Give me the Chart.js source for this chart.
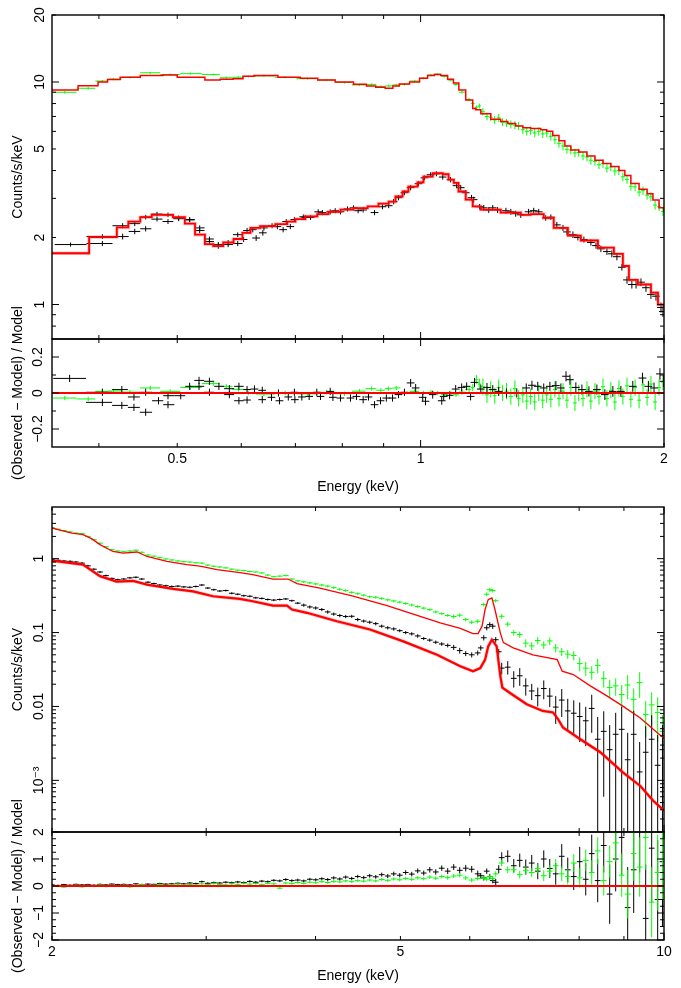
<!DOCTYPE html>
<html>
<head>
<meta charset="utf-8">
<title>Spectra and residuals</title>
<script src="https://cdn.jsdelivr.net/npm/chart.js@4.4.1/dist/chart.umd.min.js"></script>
<style>
  html, body { margin: 0; padding: 0; background: #fff; }
  #wrap { position: relative; width: 681px; height: 988px; overflow: hidden; background: #fff; }
  canvas { position: absolute; left: 0; }
</style>
</head>
<body>
<div id="wrap">
  <canvas id="topMain" width="681" height="345" style="top:0px"></canvas>
  <canvas id="topRes" width="681" height="210" style="top:290px"></canvas>
  <canvas id="botMain" width="681" height="345" style="top:495px"></canvas>
  <canvas id="botRes" width="681" height="208" style="top:780px"></canvas>
</div>
<script>
var FONT = "'Liberation Sans', Arial, Helvetica, 'DejaVu Sans', sans-serif";
var GREEN = '#00ff00', RED = '#ff0000', BLACK = '#000000';

// ---------- top plot: 0.35 - 2 keV ----------
var topXMin = 0.35, topXMax = 2;
var topYMin = 0.7, topYMax = 20;
var topResMin = -0.3, topResMax = 0.3;
var topXTicks = [0.4, 0.5, 0.6, 0.7, 0.8, 0.9, 1, 2];
var topXMajor = [1];
var topXLabelVals = [0.5, 1, 2];
var topXLabelText = ['0.5', '1', '2'];
var topYTicks = [0.8, 0.9, 1, 2, 3, 4, 5, 6, 7, 8, 9, 10, 20];
var topYMajor = [1, 10];
var topYLabelVals = [1, 2, 5, 10, 20];
var topYLabelText = ['1', '2', '5', '10', '20'];
var topResTicks = [-0.2, -0.1, 0, 0.1, 0.2];
var topResMajor = [-0.2, 0, 0.2];
var topResLabelText = ['\u22120.2', '0', '0.2'];

// [energy keV, counts/s/keV, error]
var topGreen = [
  [0.363,8.99,0.12],[0.388,9.37,0.12],[0.404,10.1,0.12],[0.417,10.3,0.12],[0.437,10.5,0.12],
  [0.463,11.0,0.13],[0.490,10.8,0.13],[0.519,10.9,0.12],[0.554,10.8,0.12],[0.575,10.45,0.12],
  [0.595,10.5,0.12],[0.612,10.6,0.12],[0.640,10.65,0.12],[0.680,10.5,0.12],[0.725,10.35,0.12],
  [0.765,10.2,0.12],[0.805,9.95,0.12],[0.840,9.7,0.12],[0.870,9.75,0.12],[0.893,9.55,0.12],
  [0.913,9.6,0.12],[0.933,9.7,0.12],[0.955,9.75,0.12],[0.983,10.1,0.13],[1.008,10.4,0.13],
  [1.030,10.75,0.13],[1.050,10.85,0.13],[1.070,10.6,0.13],[1.090,10.2,0.13],[1.106,9.75,0.13],
  [1.125,9.0,0.13],[1.148,8.35,0.14],[1.160,8.0,0.14],[1.172,7.7,0.14],[1.182,7.8,0.2],
  [1.194,7.35,0.28],[1.208,7.0,0.28],[1.221,6.95,0.28],[1.235,6.75,0.28],[1.249,6.9,0.28],
  [1.263,6.6,0.27],[1.277,6.55,0.27],[1.293,6.45,0.27],[1.308,6.4,0.27],[1.322,6.35,0.27],
  [1.338,6.1,0.26],[1.353,6.0,0.26],[1.368,6.05,0.26],[1.384,5.9,0.26],[1.400,6.0,0.26],
  [1.416,5.85,0.25],[1.432,5.9,0.25],[1.449,5.7,0.25],[1.466,5.5,0.24],[1.483,5.3,0.23],
  [1.500,5.15,0.23],[1.517,4.98,0.22],[1.534,4.95,0.22],[1.552,4.8,0.21],[1.569,4.82,0.21],
  [1.588,4.65,0.2],[1.606,4.6,0.2],[1.624,4.45,0.2],[1.643,4.4,0.19],[1.662,4.25,0.19],
  [1.681,4.3,0.19],[1.700,4.1,0.18],[1.719,4.15,0.18],[1.739,3.98,0.18],[1.759,4.0,0.18],
  [1.779,3.75,0.17],[1.800,3.65,0.16],[1.820,3.4,0.15],[1.842,3.38,0.15],[1.863,3.2,0.14],
  [1.884,3.25,0.14],[1.906,3.1,0.14],[1.927,3.05,0.14],[1.950,2.8,0.13],[1.972,2.75,0.12],
  [1.994,2.62,0.12]
];
// two detectors below 0.6 keV share the same wide bins
var topBlackLow = [
  [0.369,1.86,0.04],[0.404,1.88,0.05],[0.404,2.02,0.05],[0.428,2.26,0.06],[0.428,2.02,0.06],
  [0.443,2.31,0.06],[0.443,2.13,0.06],[0.457,2.47,0.06],[0.457,2.19,0.06],[0.472,2.55,0.06],
  [0.472,2.42,0.06],[0.487,2.53,0.06],[0.487,2.36,0.06],[0.502,2.45,0.06],[0.502,2.43,0.06],
  [0.518,2.41,0.06],[0.518,2.40,0.06],[0.533,2.21,0.06],[0.533,2.15,0.06],[0.548,1.97,0.05],
  [0.548,1.92,0.05],[0.562,1.86,0.05],[0.562,1.83,0.05],[0.578,1.90,0.05],[0.578,1.86,0.05],
  [0.594,2.06,0.05],[0.594,1.88,0.05]
];
var topBlackHigh = [
  [0.604,1.96,0.05],[0.610,2.15,0.06],[0.620,2.17,0.06],[0.626,1.99,0.06],[0.638,2.10,0.06],
  [0.640,2.21,0.06],[0.655,2.26,0.06],[0.665,2.24,0.06],[0.676,2.17,0.06],[0.682,2.36,0.06],
  [0.690,2.24,0.06],[0.698,2.41,0.06],[0.716,2.48,0.06],[0.720,2.46,0.06],[0.731,2.46,0.06],
  [0.747,2.61,0.07],[0.756,2.59,0.07],[0.773,2.61,0.07],[0.784,2.64,0.07],[0.796,2.61,0.07],
  [0.812,2.69,0.07],[0.826,2.72,0.07],[0.837,2.64,0.07],[0.849,2.66,0.07],[0.877,2.59,0.07],
  [0.897,2.75,0.07],[0.913,2.78,0.07],[0.926,2.90,0.08],[0.939,3.02,0.08],[0.955,3.18,0.08],
  [0.972,3.35,0.09],[0.994,3.49,0.09],[1.011,3.71,0.09],[1.029,3.83,0.1],[1.046,3.87,0.1],
  [1.065,3.74,0.1],[1.089,3.64,0.1],[1.108,3.42,0.09],[1.121,3.35,0.09],[1.137,3.18,0.09],
  [1.156,3.02,0.09],[1.163,2.96,0.09],[1.183,2.75,0.08],[1.197,2.72,0.08],[1.214,2.66,0.08],
  [1.228,2.72,0.08],[1.245,2.66,0.08],[1.275,2.64,0.08],[1.293,2.61,0.08],[1.311,2.56,0.08],
  [1.330,2.53,0.08],[1.360,2.61,0.08],[1.380,2.64,0.08],[1.400,2.61,0.08],[1.428,2.45,0.07],
  [1.449,2.47,0.07],[1.474,2.28,0.07],[1.500,2.21,0.07],[1.517,2.12,0.07],[1.543,2.06,0.07],
  [1.565,2.00,0.06],[1.592,1.96,0.06],[1.624,1.90,0.06],[1.648,1.84,0.06],[1.671,1.78,0.06],
  [1.700,1.73,0.06],[1.724,1.69,0.06],[1.749,1.64,0.06],[1.774,1.47,0.05],[1.800,1.29,0.05],
  [1.825,1.23,0.05],[1.847,1.23,0.05],[1.873,1.26,0.05],[1.900,1.19,0.05],[1.927,1.11,0.05],
  [1.955,1.09,0.05],[1.983,0.97,0.05],[1.994,0.93,0.05]
];
// model histograms: [bin start keV, value], last entry closes the final bin
var topGreenModel = [
  [0.350,9.2],[0.377,9.62],[0.399,10.0],[0.410,10.25],[0.425,10.5],[0.450,10.7],[0.480,10.75],
  [0.500,10.5],[0.541,10.2],[0.565,10.3],[0.586,10.35],[0.603,10.6],[0.622,10.7],[0.666,10.5],
  [0.710,10.4],[0.746,10.2],[0.784,10.0],[0.826,9.78],[0.857,9.6],[0.880,9.47],[0.904,9.38],
  [0.924,9.6],[0.941,9.8],[0.969,10.0],[0.997,10.4],[1.020,10.7],[1.040,10.8],[1.059,10.7],
  [1.080,10.3],[1.098,9.9],[1.115,9.2],[1.137,8.3],[1.160,7.6],[1.170,7.5],[1.187,7.2],
  [1.221,6.8],[1.256,6.65],[1.282,6.5],[1.311,6.35],[1.338,6.23],[1.368,6.18],[1.408,6.1],
  [1.432,6.0],[1.457,5.75],[1.483,5.45],[1.508,5.15],[1.534,4.95],[1.569,4.85],[1.606,4.65],
  [1.643,4.45],[1.681,4.3],[1.719,4.17],[1.759,4.0],[1.789,3.8],[1.820,3.5],[1.863,3.3],
  [1.906,3.15],[1.938,2.95],[1.972,2.72],[2.0,2.62]
];
var topBlackModel = [
  [0.350,1.70],[0.389,2.01],[0.421,2.22],[0.435,2.36],[0.450,2.47],[0.465,2.53],[0.494,2.47],
  [0.511,2.31],[0.526,2.06],[0.541,1.87],[0.554,1.83],[0.570,1.90],[0.587,1.97],[0.602,2.10],
  [0.616,2.21],[0.633,2.25],[0.661,2.30],[0.684,2.36],[0.700,2.42],[0.720,2.49],[0.745,2.55],
  [0.769,2.61],[0.796,2.67],[0.826,2.71],[0.860,2.76],[0.887,2.84],[0.913,2.90],[0.931,3.06],
  [0.950,3.22],[0.966,3.39],[0.991,3.54],[1.008,3.76],[1.035,3.89],[1.065,3.85],[1.083,3.64],
  [1.099,3.52],[1.114,3.22],[1.137,2.96],[1.160,2.76],[1.187,2.67],[1.256,2.59],[1.330,2.53],
  [1.368,2.55],[1.420,2.45],[1.461,2.21],[1.521,2.04],[1.578,1.94],[1.657,1.80],[1.734,1.69],
  [1.779,1.49],[1.810,1.29],[1.856,1.23],[1.927,1.13],[1.966,1.00],[2.0,0.97]
];
// residuals: [energy keV, (obs-model)/model, error]
var topGreenRes = [
  [0.363,-0.028,0.012],[0.388,-0.033,0.012],[0.404,0.009,0.012],[0.417,0.011,0.012],[0.437,0.005,0.012],
  [0.463,0.028,0.012],[0.490,0.009,0.012],[0.519,0.031,0.012],[0.554,0.052,0.012],[0.575,0.037,0.012],
  [0.595,0.02,0.012],[0.612,0.0,0.012],[0.640,-0.006,0.012],[0.680,0.0,0.012],[0.725,-0.005,0.012],
  [0.765,0.004,0.012],[0.805,-0.004,0.012],[0.840,0.01,0.012],[0.870,0.024,0.012],[0.893,0.015,0.012],
  [0.913,0.024,0.012],[0.933,0.028,0.012],[0.955,0.0,0.012],[0.983,0.009,0.012],[1.008,0.0,0.012],
  [1.030,0.004,0.012],[1.050,0.0,0.012],[1.070,-0.009,0.012],[1.090,0.0,0.012],[1.106,-0.01,0.012],
  [1.125,0.005,0.015],[1.148,0.02,0.015],[1.160,0.03,0.02],[1.172,0.074,0.025],[1.182,0.05,0.03],
  [1.194,0.035,0.045],[1.208,-0.01,0.045],[1.221,0.02,0.045],[1.235,-0.015,0.045],[1.249,0.03,0.045],
  [1.263,0.0,0.045],[1.277,0.01,0.045],[1.293,-0.02,0.045],[1.308,0.025,0.045],[1.322,-0.03,0.045],
  [1.338,-0.01,0.045],[1.353,-0.045,0.045],[1.368,-0.02,0.045],[1.384,-0.05,0.045],[1.400,0.0,0.045],
  [1.416,-0.04,0.045],[1.432,-0.01,0.045],[1.449,-0.035,0.045],[1.466,0.02,0.045],[1.483,-0.03,0.045],
  [1.500,0.01,0.045],[1.517,-0.04,0.045],[1.534,0.03,0.045],[1.552,-0.055,0.045],[1.569,0.0,0.045],
  [1.588,-0.03,0.045],[1.606,0.02,0.045],[1.624,-0.045,0.045],[1.643,0.01,0.045],[1.662,-0.02,0.045],
  [1.681,0.035,0.045],[1.700,-0.03,0.045],[1.719,0.015,0.045],[1.739,-0.05,0.045],[1.759,0.025,0.045],
  [1.779,-0.02,0.045],[1.800,0.04,0.045],[1.820,-0.035,0.045],[1.842,0.03,0.045],[1.863,-0.04,0.045],
  [1.884,0.045,0.045],[1.906,-0.025,0.045],[1.927,0.05,0.045],[1.950,-0.05,0.045],[1.972,0.03,0.045],
  [1.994,0.06,0.045]
];
var topBlackResLow = [
  [0.368,0.081,0.02],[0.404,-0.052,0.02],[0.404,0.004,0.02],[0.427,0.019,0.02],[0.427,-0.069,0.02],
  [0.442,-0.022,0.02],[0.442,-0.08,0.02],[0.457,-0.107,0.02],[0.457,0.004,0.02],[0.474,-0.043,0.02],
  [0.487,-0.065,0.02],[0.487,-0.015,0.02],[0.505,-0.015,0.02],[0.518,0.037,0.02],[0.532,0.07,0.02],
  [0.532,0.037,0.02],[0.548,0.065,0.02],[0.548,0.004,0.02],[0.563,0.037,0.02],[0.580,0.024,0.02],
  [0.580,-0.009,0.02],[0.596,0.037,0.02],[0.596,-0.043,0.02]
];
var topBlackResHigh = [
  [0.610,0.019,0.02],[0.610,-0.039,0.02],[0.623,0.022,0.02],[0.637,0.015,0.02],[0.637,-0.037,0.02],
  [0.654,-0.024,0.02],[0.667,0.0,0.02],[0.669,-0.043,0.02],[0.686,-0.022,0.02],[0.698,0.004,0.02],
  [0.699,-0.037,0.02],[0.713,-0.022,0.02],[0.728,-0.019,0.02],[0.744,0.004,0.02],[0.752,-0.019,0.02],
  [0.773,0.009,0.02],[0.779,-0.024,0.02],[0.796,-0.028,0.02],[0.819,-0.028,0.02],[0.833,-0.019,0.02],
  [0.849,-0.037,0.02],[0.862,-0.022,0.02],[0.877,-0.065,0.02],[0.892,-0.043,0.02],[0.907,-0.028,0.02],
  [0.923,-0.028,0.02],[0.939,-0.009,0.02],[0.955,0.004,0.02],[0.972,0.056,0.022],[0.986,0.028,0.022],
  [1.006,-0.024,0.022],[1.014,-0.046,0.022],[1.035,-0.009,0.022],[1.062,-0.043,0.022],[1.068,-0.019,0.022],
  [1.086,-0.013,0.022],[1.105,0.022,0.022],[1.124,0.031,0.022],[1.140,0.037,0.022],[1.153,-0.019,0.022],
  [1.166,0.059,0.025],[1.187,0.022,0.025],[1.208,0.031,0.025],[1.228,0.019,0.025],[1.249,0.009,0.025],
  [1.277,0.0,0.025],[1.315,0.0,0.025],[1.351,0.028,0.025],[1.373,0.043,0.025],[1.396,0.037,0.025],
  [1.420,0.028,0.025],[1.445,0.037,0.025],[1.470,0.041,0.025],[1.491,0.028,0.025],[1.513,0.093,0.028],
  [1.530,0.074,0.028],[1.556,0.031,0.028],[1.583,0.019,0.028],[1.615,0.009,0.028],[1.652,0.019,0.028],
  [1.690,-0.009,0.03],[1.729,0.009,0.03],[1.769,0.009,0.03],[1.830,0.037,0.03],[1.881,0.083,0.03],
  [1.913,0.037,0.03],[1.944,0.028,0.03],[1.977,0.106,0.032],[1.997,0.065,0.032]
];

// ---------- bottom plot: 2 - 10 keV ----------
var botXMin = 2, botXMax = 10;
var botYMin = 2e-4, botYMax = 5;
var botResMin = -2, botResMax = 2;
var botXTicks = [2, 3, 4, 5, 6, 7, 8, 9, 10];
var botXMajor = [10];
var botXLabelVals = [2, 5, 10];
var botXLabelText = ['2', '5', '10'];
var botYDecades = [1e-4, 1e-3, 1e-2, 0.1, 1];
var botYLabelVals = [1e-3, 0.01, 0.1, 1];
var botYLabelText = ['10\u207B\u00B3', '0.01', '0.1', '1'];
var botResMajor = [-2, -1, 0, 1, 2];
var botResLabelText = ['\u22122', '\u22121', '0', '1', '2'];

var botGreen = [
  [2.000,2.62,0.06],[2.032,2.5,0.06],[2.064,2.4,0.06],[2.097,2.3,0.055],[2.130,2.22,0.055],
  [2.164,2.18,0.05],[2.198,2.0,0.05],[2.233,1.8,0.045],[2.269,1.62,0.04],[2.305,1.45,0.035],
  [2.341,1.32,0.033],[2.378,1.27,0.032],[2.416,1.24,0.031],[2.455,1.27,0.032],[2.494,1.3,0.032],
  [2.533,1.22,0.03],[2.574,1.12,0.028],[2.615,1.08,0.027],[2.656,1.03,0.026],[2.698,0.99,0.025],
  [2.741,0.96,0.024],[2.785,0.93,0.023],[2.829,0.91,0.023],[2.874,0.90,0.022],[2.920,0.88,0.022],
  [2.966,0.87,0.022],[3.013,0.82,0.02],[3.061,0.79,0.02],[3.110,0.77,0.019],[3.159,0.75,0.019],
  [3.209,0.72,0.018],[3.260,0.70,0.018],[3.312,0.69,0.017],[3.365,0.67,0.017],[3.418,0.66,0.017],
  [3.473,0.64,0.016],[3.528,0.60,0.015],[3.584,0.57,0.015],[3.641,0.58,0.015],[3.699,0.59,0.015],
  [3.758,0.53,0.014],[3.817,0.50,0.013],[3.878,0.485,0.019],[3.940,0.47,0.019],[4.002,0.455,0.018],
  [4.066,0.44,0.018],[4.130,0.425,0.017],[4.196,0.405,0.016],[4.263,0.385,0.015],[4.330,0.37,0.015],
  [4.399,0.35,0.014],[4.469,0.335,0.013],[4.540,0.32,0.013],[4.612,0.305,0.012],[4.686,0.30,0.012],
  [4.760,0.29,0.012],[4.836,0.277,0.011],[4.913,0.268,0.011],[4.991,0.258,0.01],[5.070,0.247,0.01],
  [5.151,0.236,0.01],[5.233,0.225,0.009],[5.316,0.214,0.009],[5.401,0.204,0.008],[5.487,0.19,0.008],
  [5.574,0.18,0.007],[5.662,0.17,0.007],[5.752,0.165,0.01],[5.844,0.172,0.01],[5.937,0.15,0.009],
  [6.031,0.138,0.008],[6.127,0.142,0.009],[6.225,0.24,0.014],[6.274,0.33,0.02],[6.324,0.38,0.023],
  [6.374,0.37,0.022],[6.424,0.27,0.016],[6.526,0.166,0.012],[6.630,0.13,0.01],[6.736,0.10,0.009],
  [6.843,0.094,0.009],[6.952,0.072,0.009],[7.062,0.066,0.008],[7.175,0.078,0.009],[7.289,0.068,0.008],
  [7.405,0.077,0.009],[7.522,0.062,0.008],[7.642,0.055,0.007],[7.764,0.051,0.007],[7.887,0.049,0.007],
  [8.012,0.038,0.008],[8.140,0.033,0.007],[8.269,0.029,0.006],[8.400,0.036,0.008],[8.534,0.024,0.006],
  [8.669,0.018,0.005],[8.807,0.019,0.005],[8.947,0.0145,0.005],[9.089,0.0195,0.007],[9.234,0.0125,0.005],
  [9.380,0.021,0.008],[9.530,0.0078,0.004],[9.681,0.0105,0.005],[9.835,0.0083,0.005],[9.960,0.0046,0.003]
];
var botBlack = [
  [2.000,0.97,0.03],[2.032,0.95,0.03],[2.064,0.93,0.03],[2.097,0.92,0.03],[2.130,0.90,0.03],
  [2.164,0.87,0.03],[2.198,0.80,0.025],[2.233,0.72,0.022],[2.269,0.66,0.02],[2.305,0.59,0.018],
  [2.341,0.54,0.016],[2.378,0.52,0.016],[2.416,0.53,0.016],[2.455,0.55,0.017],[2.494,0.56,0.017],
  [2.533,0.53,0.016],[2.574,0.48,0.015],[2.615,0.46,0.014],[2.656,0.44,0.013],[2.698,0.43,0.013],
  [2.741,0.42,0.013],[2.785,0.425,0.013],[2.829,0.415,0.013],[2.874,0.41,0.012],[2.920,0.42,0.013],
  [2.966,0.44,0.013],[3.013,0.40,0.012],[3.061,0.38,0.012],[3.110,0.365,0.011],[3.159,0.37,0.011],
  [3.209,0.34,0.011],[3.260,0.33,0.01],[3.312,0.315,0.01],[3.365,0.31,0.01],[3.418,0.295,0.009],
  [3.473,0.29,0.009],[3.528,0.28,0.009],[3.584,0.275,0.009],[3.641,0.28,0.009],[3.699,0.285,0.009],
  [3.758,0.27,0.009],[3.817,0.25,0.008],[3.878,0.235,0.012],[3.940,0.222,0.011],[4.002,0.215,0.011],
  [4.066,0.205,0.01],[4.130,0.19,0.01],[4.196,0.178,0.009],[4.263,0.17,0.009],[4.330,0.165,0.008],
  [4.399,0.166,0.008],[4.469,0.15,0.008],[4.540,0.143,0.007],[4.612,0.138,0.007],[4.686,0.132,0.007],
  [4.760,0.122,0.006],[4.836,0.116,0.006],[4.913,0.112,0.006],[4.991,0.106,0.005],[5.070,0.100,0.005],
  [5.151,0.096,0.005],[5.233,0.090,0.005],[5.316,0.083,0.004],[5.401,0.079,0.004],[5.487,0.074,0.004],
  [5.574,0.070,0.004],[5.662,0.067,0.004],[5.752,0.063,0.005],[5.844,0.057,0.005],[5.937,0.052,0.004],
  [6.031,0.050,0.004],[6.127,0.053,0.004],[6.176,0.062,0.005],[6.225,0.085,0.007],[6.274,0.116,0.009],
  [6.324,0.128,0.01],[6.374,0.122,0.01],[6.424,0.080,0.007],[6.475,0.055,0.005],[6.526,0.033,0.006],
  [6.630,0.034,0.007],[6.736,0.024,0.006],[6.843,0.026,0.007],[6.952,0.019,0.005],[7.062,0.0162,0.004],
  [7.175,0.0140,0.004],[7.289,0.0175,0.005],[7.405,0.0138,0.004],[7.522,0.0098,0.004],[7.642,0.0122,0.005],
  [7.764,0.0087,0.004],[7.887,0.0081,0.004],[8.012,0.0073,0.004],[8.140,0.0064,0.0035],[8.269,0.0094,0.005],
  [8.400,0.0036,0.0036],[8.534,0.0046,0.004],[8.669,0.0026,0.003],[8.807,0.0042,0.004],[8.947,0.0049,0.005],
  [9.089,0.0019,0.0025],[9.234,0.0042,0.0045],[9.380,0.0013,0.002],[9.530,0.0024,0.003],[9.681,0.0036,0.004],
  [9.835,0.0016,0.0025],[9.960,0.0026,0.003]
];
var botGreenModel = [
  [2.0,2.60],[2.053,2.40],[2.108,2.22],[2.170,2.11],[2.222,1.85],[2.269,1.55],[2.348,1.25],
  [2.410,1.19],[2.502,1.23],[2.568,1.07],[2.706,0.92],[2.851,0.83],[2.951,0.79],[3.087,0.71],
  [3.279,0.645],[3.391,0.61],[3.576,0.53],[3.719,0.53],[3.810,0.46],[4.046,0.40],[4.414,0.31],
  [4.828,0.232],[5.266,0.166],[5.552,0.135],[5.852,0.114],[6.052,0.097],[6.133,0.097],[6.197,0.122],
  [6.247,0.205],[6.298,0.279],[6.360,0.294],[6.411,0.205],[6.502,0.099],[6.555,0.073],[6.728,0.062],
  [7.083,0.050],[7.553,0.043],[7.650,0.030],[7.877,0.027],[8.238,0.019],[8.605,0.0139],[8.974,0.0101],
  [9.396,0.0070],[9.720,0.0049],[10.0,0.0037]
];
var botBlackModel = [
  [2.0,0.94],[2.170,0.83],[2.269,0.58],[2.371,0.49],[2.476,0.50],[2.568,0.445],[2.750,0.39],
  [2.899,0.36],[3.054,0.31],[3.279,0.285],[3.391,0.265],[3.576,0.232],[3.710,0.232],[3.760,0.205],
  [3.910,0.185],[4.230,0.142],[4.616,0.110],[5.038,0.076],[5.505,0.050],[5.852,0.035],[6.052,0.030],
  [6.169,0.033],[6.247,0.043],[6.298,0.065],[6.360,0.080],[6.440,0.065],[6.502,0.026],[6.537,0.018],
  [6.670,0.0152],[6.970,0.0107],[7.270,0.0087],[7.470,0.0083],[7.570,0.0067],[7.666,0.0052],
  [8.024,0.0036],[8.458,0.0024],[8.974,0.00128],[9.396,0.00084],[9.720,0.00053],[10.0,0.00039]
];
var botGreenRes = [
  [2.000,-0.02,0.04],[2.032,0.01,0.04],[2.064,-0.04,0.04],[2.097,0.0,0.04],[2.130,0.03,0.04],
  [2.164,-0.03,0.04],[2.198,0.02,0.04],[2.233,-0.01,0.04],[2.269,0.04,0.04],[2.305,-0.02,0.04],
  [2.341,0.02,0.04],[2.378,0.0,0.04],[2.416,0.03,0.04],[2.455,-0.03,0.04],[2.494,0.02,0.04],
  [2.533,0.05,0.04],[2.574,-0.01,0.04],[2.615,0.03,0.04],[2.656,0.06,0.04],[2.698,0.02,0.04],
  [2.741,0.04,0.04],[2.785,0.07,0.04],[2.829,0.03,0.04],[2.874,0.06,0.04],[2.920,0.04,0.04],
  [2.966,0.08,0.04],[3.013,0.05,0.04],[3.061,0.09,0.04],[3.110,0.06,0.04],[3.159,0.04,0.04],
  [3.209,0.08,0.04],[3.260,0.06,0.04],[3.312,0.10,0.04],[3.365,0.07,0.04],[3.418,0.09,0.04],
  [3.473,0.05,0.04],[3.528,0.10,0.04],[3.584,0.08,0.04],[3.641,-0.08,0.04],[3.699,0.11,0.045],
  [3.758,0.09,0.045],[3.817,0.13,0.045],[3.878,0.10,0.045],[3.940,0.14,0.045],[4.002,0.12,0.045],
  [4.066,0.16,0.05],[4.130,0.13,0.05],[4.196,0.17,0.05],[4.263,0.15,0.05],[4.330,0.19,0.05],
  [4.399,0.16,0.05],[4.469,0.20,0.05],[4.540,0.18,0.055],[4.612,0.22,0.055],[4.686,0.19,0.055],
  [4.760,0.24,0.055],[4.836,0.21,0.06],[4.913,0.26,0.06],[4.991,0.23,0.06],[5.070,0.28,0.06],
  [5.151,0.25,0.065],[5.233,0.30,0.065],[5.316,0.27,0.065],[5.401,0.33,0.07],[5.487,0.29,0.07],
  [5.574,0.35,0.07],[5.662,0.31,0.075],[5.752,0.37,0.075],[5.844,0.40,0.08],[5.937,0.30,0.08],
  [6.031,0.22,0.08],[6.127,0.28,0.08],[6.225,0.30,0.08],[6.274,0.25,0.08],[6.324,0.35,0.08],
  [6.374,0.28,0.08],[6.424,0.45,0.1],[6.526,0.85,0.12],[6.630,0.6,0.12],[6.736,0.60,0.13],
  [6.843,0.42,0.14],[6.952,0.58,0.15],[7.062,0.50,0.16],[7.175,0.65,0.18],[7.289,0.38,0.2],
  [7.405,0.55,0.22],[7.522,0.75,0.25],[7.642,0.45,0.27],[7.764,0.35,0.3],[7.887,0.85,0.33],
  [8.012,0.30,0.36],[8.140,0.95,0.4],[8.269,0.50,0.45],[8.400,1.3,0.5],[8.534,0.2,0.55],
  [8.669,0.9,0.6],[8.807,1.6,0.7],[8.947,0.4,0.8],[9.089,-0.3,0.9],[9.234,1.2,1.0],
  [9.380,0.7,1.1],[9.530,1.8,1.2],[9.681,-0.6,1.3],[9.835,0.5,1.4],[9.960,1.0,1.5]
];
var botBlackRes = [
  [2.000,0.04,0.03],[2.032,0.02,0.03],[2.064,0.05,0.03],[2.097,0.03,0.03],[2.130,0.06,0.03],
  [2.164,0.04,0.03],[2.198,0.05,0.03],[2.233,0.03,0.03],[2.269,0.06,0.03],[2.305,0.04,0.03],
  [2.341,0.07,0.03],[2.378,0.05,0.03],[2.416,0.06,0.03],[2.455,0.04,0.03],[2.494,0.08,0.03],
  [2.533,0.05,0.03],[2.574,0.07,0.03],[2.615,0.06,0.03],[2.656,0.09,0.035],[2.698,0.07,0.035],
  [2.741,0.08,0.035],[2.785,0.10,0.035],[2.829,0.08,0.035],[2.874,0.11,0.035],[2.920,0.09,0.035],
  [2.966,0.16,0.04],[3.013,0.10,0.04],[3.061,0.12,0.04],[3.110,0.11,0.04],[3.159,0.14,0.04],
  [3.209,0.12,0.04],[3.260,0.15,0.04],[3.312,0.13,0.04],[3.365,0.17,0.045],[3.418,0.14,0.045],
  [3.473,0.18,0.045],[3.528,0.16,0.045],[3.584,0.21,0.045],[3.641,0.19,0.05],[3.699,0.24,0.05],
  [3.758,0.20,0.05],[3.817,0.22,0.05],[3.878,0.19,0.05],[3.940,0.25,0.05],[4.002,0.23,0.055],
  [4.066,0.27,0.055],[4.130,0.24,0.055],[4.196,0.30,0.06],[4.263,0.26,0.06],[4.330,0.33,0.06],
  [4.399,0.28,0.06],[4.469,0.35,0.065],[4.540,0.31,0.065],[4.612,0.38,0.07],[4.686,0.34,0.07],
  [4.760,0.42,0.075],[4.836,0.37,0.075],[4.913,0.45,0.08],[4.991,0.40,0.08],[5.070,0.50,0.085],
  [5.151,0.44,0.085],[5.233,0.56,0.09],[5.316,0.48,0.09],[5.401,0.60,0.1],[5.487,0.52,0.1],
  [5.574,0.66,0.1],[5.662,0.55,0.11],[5.752,0.70,0.11],[5.844,0.58,0.12],[5.937,0.66,0.12],
  [6.031,0.62,0.12],[6.127,0.45,0.12],[6.176,0.38,0.1],[6.225,0.30,0.1],[6.274,0.55,0.1],
  [6.324,0.35,0.1],[6.374,0.20,0.1],[6.424,0.14,0.12],[6.475,0.62,0.15],[6.526,1.05,0.2],
  [6.630,1.10,0.22],[6.736,0.75,0.25],[6.843,0.95,0.25],[6.952,0.70,0.28],[7.062,0.85,0.3],
  [7.175,0.55,0.3],[7.289,1.0,0.32],[7.405,0.65,0.35],[7.522,0.45,0.4],[7.642,1.1,0.45],
  [7.764,0.6,0.45],[7.887,0.35,0.5],[8.012,0.9,0.55],[8.140,0.25,0.6],[8.269,1.2,0.7],
  [8.400,0.2,0.8],[8.534,1.5,1.0],[8.669,-0.3,1.1],[8.807,1.0,1.2],[8.947,1.8,1.4],
  [9.089,-0.8,1.5],[9.234,0.6,1.6],[9.380,2.3,1.8],[9.530,-1.2,2.0],[9.681,1.4,2.0],
  [9.835,-0.5,2.2],[9.960,0.9,2.4]
];

// ---------- helpers ----------
function near(list, v) {
  return list.some(function (t) { return Math.abs(t - v) <= Math.abs(t) * 1e-6 + 1e-12; });
}
function labeler(vals, texts) {
  return function (v) {
    for (var i = 0; i < vals.length; i++) {
      if (Math.abs(vals[i] - v) <= Math.abs(vals[i]) * 1e-6 + 1e-12) return texts[i];
    }
    return '';
  };
}
function decadeTicks(decades, min, max) {
  var out = [];
  decades.forEach(function (d) {
    for (var m = 1; m <= 9; m++) {
      var v = d * m;
      if (v > min * 1.0001 && v < max * 0.9999) out.push(v);
    }
  });
  return out;
}

// crosses: horizontal bar = energy bin, vertical bar = error
function errorBars(points, color, frac, floor) {
  var es = points.map(function (p) { return p[0]; })
    .filter(function (v, i, a) { return a.indexOf(v) === i; })
    .sort(function (a, b) { return a - b; });
  var out = [];
  points.forEach(function (p) {
    var e = p[0], y = p[1], d = p[2], lo, hi;
    if (frac) {
      lo = e * (1 - frac); hi = e * (1 + frac);
    } else {
      var i = es.indexOf(e);
      hi = i < es.length - 1 ? Math.sqrt(e * es[i + 1]) : null;
      lo = i > 0 ? Math.sqrt(e * es[i - 1]) : null;
      if (hi === null) hi = e * e / lo;
      if (lo === null) lo = e * e / hi;
    }
    var yl = y - d;
    if (floor !== undefined && yl <= floor) yl = floor;
    out.push({x: lo, y: y}, {x: hi, y: y}, {x: e, y: null},
             {x: e, y: yl}, {x: e, y: y + d}, {x: e, y: null});
  });
  return {data: out, borderColor: color, borderWidth: 1, pointRadius: 0,
          showLine: true, spanGaps: false, clip: 0};
}
function modelLine(points, color, width, stepped) {
  return {data: points.map(function (p) { return {x: p[0], y: p[1]}; }),
          borderColor: color, borderWidth: width, pointRadius: 0,
          showLine: true, stepped: stepped, clip: 0};
}

// frame with inward ticks on all four sides
var frame = {
  id: 'frame',
  afterDraw: function (chart, args, o) {
    var ctx = chart.ctx, a = chart.chartArea;
    var sx = chart.scales.x, sy = chart.scales.y;
    ctx.save();
    ctx.strokeStyle = '#000';
    ctx.lineWidth = 1;
    ctx.beginPath();
    o.xTicks.forEach(function (v) {
      var p = sx.getPixelForValue(v);
      var len = near(o.xMajor, v) ? 7 : 4;
      ctx.moveTo(p, a.bottom); ctx.lineTo(p, a.bottom - len);
      ctx.moveTo(p, a.top); ctx.lineTo(p, a.top + len);
    });
    o.yTicks.forEach(function (v) {
      var p = sy.getPixelForValue(v);
      var len = near(o.yMajor, v) ? 7 : 4;
      ctx.moveTo(a.left, p); ctx.lineTo(a.left + len, p);
      ctx.moveTo(a.right, p); ctx.lineTo(a.right - len, p);
    });
    ctx.stroke();
    ctx.lineWidth = 1.4;
    ctx.strokeRect(a.left, a.top, a.right - a.left, a.bottom - a.top);
    ctx.restore();
  }
};

function axisFont() { return {family: FONT, size: 14, lineHeight: 1.2}; }

function hiddenX(min, max) {
  return {type: 'logarithmic', min: min, max: max, display: false};
}
function energyX(min, max, ticks, vals, texts, height) {
  return {
    type: 'logarithmic', min: min, max: max,
    grid: {display: false, drawTicks: false}, border: {display: false},
    afterBuildTicks: function (s) { s.ticks = ticks.map(function (v) { return {value: v}; }); },
    afterFit: function (s) { s.height = height; s.paddingLeft = 0; s.paddingRight = 0; },
    ticks: {autoSkip: false, minRotation: 0, maxRotation: 0, padding: 4, color: '#000',
            font: axisFont(), callback: labeler(vals, texts)},
    title: {display: true, text: 'Energy (keV)', color: '#000', font: axisFont(),
            padding: {top: 0, bottom: 0}}
  };
}
function leftY(type, min, max, ticks, vals, texts, pad, title) {
  return {
    type: type, min: min, max: max,
    grid: {display: false, drawTicks: false}, border: {display: false},
    afterBuildTicks: function (s) { s.ticks = ticks.map(function (v) { return {value: v}; }); },
    afterFit: function (s) { s.width = 52; s.paddingTop = 0; s.paddingBottom = 0; },
    ticks: {autoSkip: false, minRotation: 90, maxRotation: 90, crossAlign: 'center',
            padding: pad, color: '#000', font: axisFont(), callback: labeler(vals, texts)},
    title: {display: true, text: title, color: '#000', font: axisFont(),
            padding: {top: 10, bottom: 0}}
  };
}
function panel(id, datasets, padding, x, y, ticks) {
  return new Chart(document.getElementById(id), {
    type: 'scatter',
    data: {datasets: datasets},
    options: {
      responsive: false, animation: false, events: [],
      layout: {padding: padding},
      plugins: {legend: {display: false}, tooltip: {enabled: false}, frame: ticks},
      scales: {x: x, y: y}
    },
    plugins: [frame]
  });
}

var RES_TITLE = '(Observed \u2212 Model) / Model';
var PINK = 'rgba(255,70,70,0.35)';

// ---------- top main ----------
panel('topMain', [
  modelLine(topBlackModel, RED, 1.8, true),
  modelLine(topGreenModel, RED, 1.5, true),
  modelLine(topBlackModel, PINK, 3.5, true),
  errorBars(topBlackLow, BLACK, 0, 1e-6),
  errorBars(topBlackHigh, BLACK, 0.011, 1e-6),
  errorBars(topGreen, GREEN, 0, 1e-6)
], {left: 0, right: 17, top: 15, bottom: 6},
  hiddenX(topXMin, topXMax),
  leftY('logarithmic', topYMin, topYMax, topYTicks, topYLabelVals, topYLabelText, 4, 'Counts/s/keV'),
  {xTicks: topXTicks, xMajor: topXMajor, yTicks: topYTicks, yMajor: topYMajor});

// ---------- top residuals ----------
panel('topRes', [
  modelLine([[topXMin, 0], [topXMax, 0]], RED, 2, false),
  errorBars(topBlackResLow, BLACK, 0),
  errorBars(topBlackResHigh, BLACK, 0.011),
  errorBars(topGreenRes, GREEN, 0)
], {left: 0, right: 17, top: 49, bottom: 4.6},
  energyX(topXMin, topXMax, topXTicks, topXLabelVals, topXLabelText, 48.4),
  leftY('linear', topResMin, topResMax, topResTicks, topResMajor, topResLabelText, 0, RES_TITLE),
  {xTicks: topXTicks, xMajor: topXMajor, yTicks: topResTicks, yMajor: topResMajor});

// ---------- bottom main ----------
var botYTicks = decadeTicks(botYDecades, botYMin, botYMax);
panel('botMain', [
  modelLine(botBlackModel, RED, 2.2, false),
  modelLine(botGreenModel, RED, 1.3, false),
  modelLine(botBlackModel, PINK, 3.5, false),
  errorBars(botBlack, BLACK, 0.0075, 1e-7),
  errorBars(botGreen, GREEN, 0.0075, 1e-7)
], {left: 0, right: 17, top: 12, bottom: 8},
  hiddenX(botXMin, botXMax),
  leftY('logarithmic', botYMin, botYMax, botYTicks, botYLabelVals, botYLabelText, -1, 'Counts/s/keV'),
  {xTicks: botXTicks, xMajor: botXMajor, yTicks: botYTicks, yMajor: botYDecades});

// ---------- bottom residuals ----------
var botResTicks = [];
for (var k = -8; k <= 8; k++) botResTicks.push(k / 4);
panel('botRes', [
  modelLine([[botXMin, 0], [botXMax, 0]], RED, 2, false),
  errorBars(botGreenRes, GREEN, 0.0075),
  errorBars(botBlackRes, BLACK, 0.0075)
], {left: 0, right: 17, top: 52, bottom: 3.6},
  energyX(botXMin, botXMax, botXTicks, botXLabelVals, botXLabelText, 44.4),
  leftY('linear', botResMin, botResMax, botResTicks, botResMajor, botResLabelText, 4.5, RES_TITLE),
  {xTicks: botXTicks, xMajor: botXMajor, yTicks: botResTicks, yMajor: botResMajor});
</script>
</body>
</html>
